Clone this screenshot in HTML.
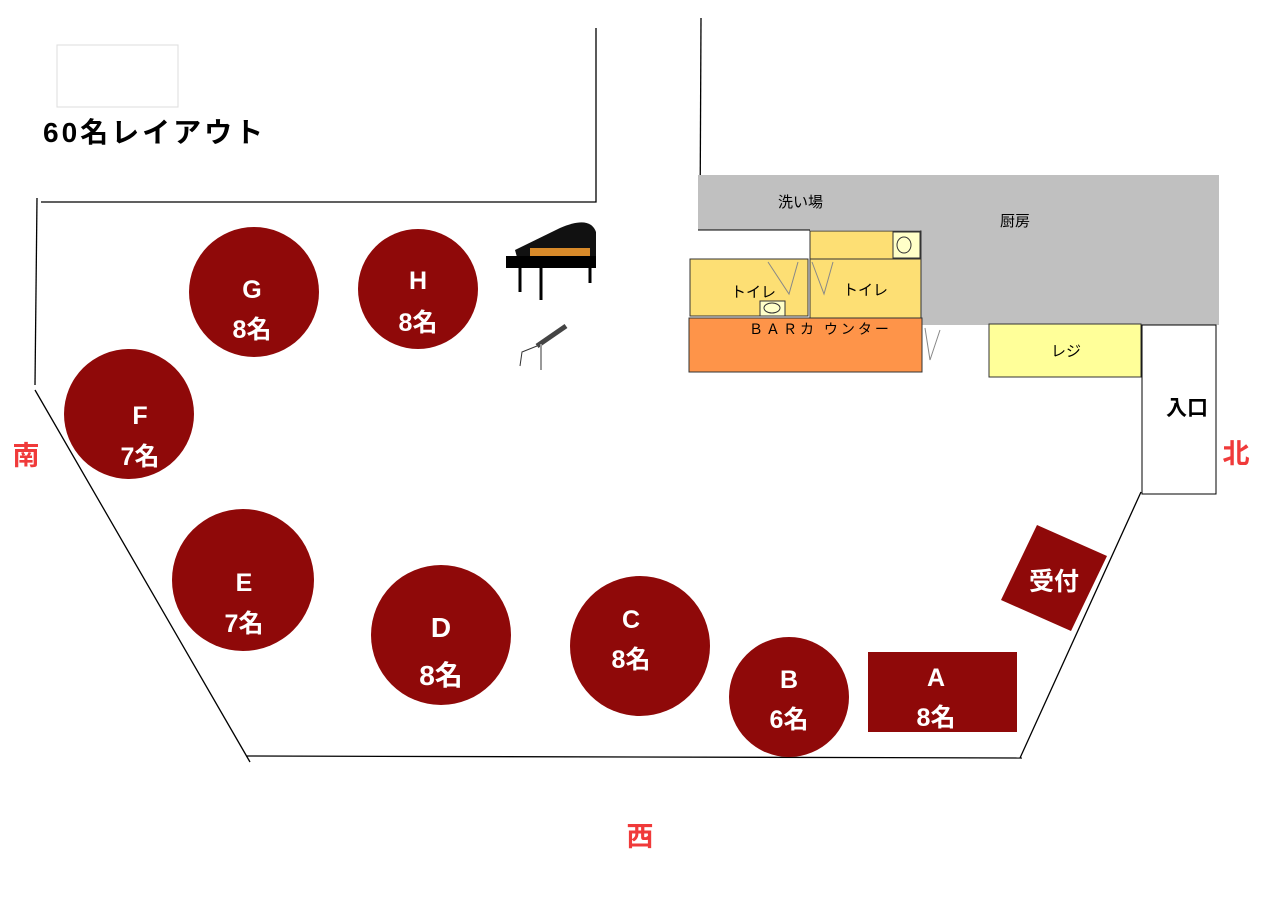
<!DOCTYPE html>
<html><head><meta charset="utf-8"><style>
body{margin:0;background:#fff}
svg{display:block}
text{font-family:"Liberation Sans","Noto Sans CJK JP",sans-serif}
</style></head><body>
<svg width="1280" height="905" viewBox="0 0 1280 905">
<rect x="57" y="45" width="121" height="62" fill="#fff" stroke="#ddd"/>
<text x="43" y="142" font-size="28" font-weight="bold" fill="#000" letter-spacing="3">60名レイアウト</text>
<g stroke="#000" stroke-width="1.3" fill="none">
<polyline points="596,28 596,202 41,202"/>
<line x1="37" y1="198" x2="35" y2="385"/>
<line x1="35" y1="390" x2="250" y2="762"/>
<line x1="246" y1="756" x2="1022" y2="758"/>
<line x1="1020" y1="758" x2="1141" y2="492"/>
<line x1="701" y1="18" x2="700" y2="228"/>
</g>
<path d="M698 175H1219V325H920V230H698Z" fill="#c0c0c0"/>
<line x1="698" y1="230" x2="810" y2="230" stroke="#000"/>
<text x="778" y="207" font-size="15">洗い場</text>
<text x="1000" y="226" font-size="15">厨房</text>
<rect x="810" y="231" width="111" height="28" fill="#fddf74" stroke="#333"/>
<rect x="893" y="232" width="27" height="26" fill="#ffffc8" stroke="#333"/>
<ellipse cx="904" cy="245" rx="7" ry="8" fill="none" stroke="#333"/>
<rect x="690" y="259" width="118" height="57" fill="#fddf74" stroke="#333"/>
<rect x="810" y="259" width="111" height="59" fill="#fddf74" stroke="#333"/>
<rect x="760" y="301" width="25" height="15" fill="#ffffc8" stroke="#333"/>
<ellipse cx="772" cy="308" rx="8" ry="5" fill="none" stroke="#333"/>
<text x="731" y="297" font-size="15">トイレ</text>
<text x="843" y="295" font-size="15">トイレ</text>
<polyline points="768,262 789,294 798,262" fill="none" stroke="#888"/>
<polyline points="812,262 824,294 833,262" fill="none" stroke="#888"/>
<rect x="689" y="318" width="233" height="54" fill="#fe9449" stroke="#333"/>
<text x="749" y="334" font-size="14" letter-spacing="3">ＢＡＲカ ウンター</text>
<polyline points="925,328 930,360 940,330" fill="none" stroke="#888"/>
<rect x="989" y="324" width="152" height="53" fill="#ffff99" stroke="#333"/>
<text x="1051" y="356" font-size="15">レジ</text>
<rect x="1142" y="325" width="74" height="169" fill="#fff" stroke="#000"/>
<text x="1166" y="415" font-size="21" font-weight="bold">入口</text>
<path d="M515 250 L560 228 Q590 215 596 232 L596 265 L520 268 Z" fill="#111"/>
<path d="M530 248 L590 248 L590 256 L530 258Z" fill="#d88a2a"/>
<rect x="506" y="256" width="90" height="12" fill="#000"/>
<line x1="520" y1="268" x2="520" y2="292" stroke="#000" stroke-width="3"/>
<line x1="541" y1="268" x2="541" y2="300" stroke="#000" stroke-width="3"/>
<line x1="590" y1="268" x2="590" y2="283" stroke="#000" stroke-width="3"/>
<line x1="537" y1="346" x2="566" y2="326" stroke="#444" stroke-width="5"/>
<line x1="541" y1="344" x2="541" y2="370" stroke="#999" stroke-width="2"/>
<polyline points="537,346 522,352 520,366" fill="none" stroke="#333"/>
<g fill="#8f0909">
<circle cx="254" cy="292" r="65"/>
<circle cx="418" cy="289" r="60"/>
<circle cx="129" cy="414" r="65"/>
<circle cx="243" cy="580" r="71"/>
<circle cx="441" cy="635" r="70"/>
<circle cx="640" cy="646" r="70"/>
<circle cx="789" cy="697" r="60"/>
<rect x="868" y="652" width="149" height="80"/>
<polygon points="1037,525 1107,556 1071,631 1001,600"/>
</g>
<g fill="#fff" font-weight="bold" font-size="25" text-anchor="middle">
<text x="252" y="298">G</text><text x="252" y="338">8名</text>
<text x="418" y="289">H</text><text x="418" y="331">8名</text>
<text x="140" y="424">F</text><text x="140" y="465">7名</text>
<text x="244" y="591">E</text><text x="244" y="632">7名</text>
<text x="441" y="637" font-size="28">D</text><text x="441" y="685" font-size="28">8名</text>
<text x="631" y="628">C</text><text x="631" y="668">8名</text>
<text x="789" y="688">B</text><text x="789" y="728">6名</text>
<text x="936" y="686">A</text><text x="936" y="726">8名</text>
<text x="1054" y="590">受付</text>
</g>
<g fill="#f03a3a" font-weight="bold" font-size="27" text-anchor="middle">
<text x="26" y="465">南</text>
<text x="1236" y="463">北</text>
<text x="640" y="846">西</text>
</g>
</svg>
</body></html>
